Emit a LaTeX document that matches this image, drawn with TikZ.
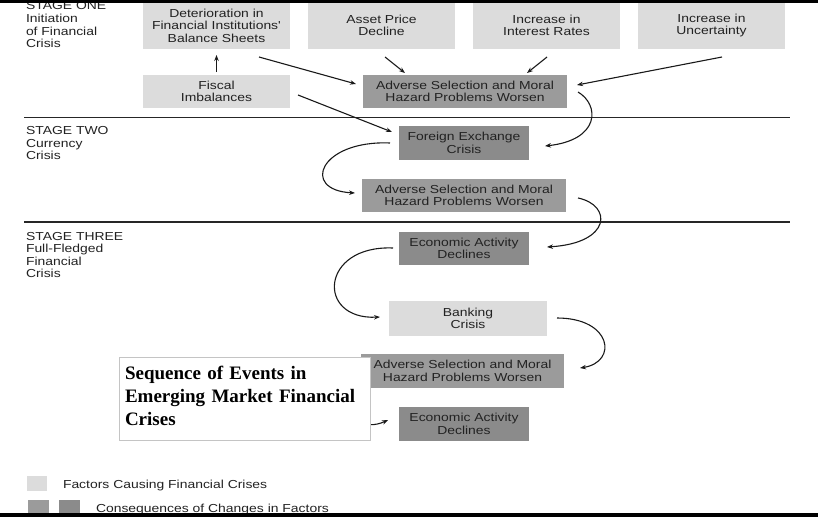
\documentclass[tikz,border=0pt]{standalone}
\usepackage{fontspec}
\setmainfont{Liberation Sans}
\newfontfamily\dsans[FakeStretch=1.2]{Liberation Sans}
\newfontfamily\ttlserif{Liberation Serif}
\usetikzlibrary{arrows.meta,calc}
\definecolor{lightbox}{HTML}{DCDCDC}
\definecolor{midbox}{HTML}{9B9B9B}
\definecolor{darkbox}{HTML}{8B8B8B}
\definecolor{txt}{HTML}{222222}
\definecolor{titleedge}{HTML}{C4C4C4}
\begin{document}
\begin{tikzpicture}[x=1pt,y=-1pt,
  every node/.style={inner sep=0pt, outer sep=0pt},
  sansfont/.style={font=\dsans\fontsize{11.6}{12.6}\selectfont, text=txt},
  boxtext/.style={sansfont, align=center},
  cause/.style={boxtext, fill=lightbox},
  conseqA/.style={boxtext, fill=midbox},
  conseqB/.style={boxtext, fill=darkbox},
  stagelabel/.style={sansfont, align=left, anchor=north west},
  link/.style={draw=black!90, line width=1.1pt, -{Stealth[length=6pt,width=4.5pt]}},
  stagerule/.style={draw=black!85, line width=1.4pt},
]
\useasboundingbox (0,0) rectangle (818,519);

% stage separators
\coordinate (r1a) at (24,117.5); \coordinate (r1b) at (790,117.5);
\coordinate (r2a) at (24,222);   \coordinate (r2b) at (790,222);
\draw[stagerule] (r1a) -- (r1b);
\draw[stagerule] (r2a) -- (r2b);

% stage labels
\node[stagelabel] (s1) at (26,1.8) {STAGE ONE\\Initiation\\of Financial\\Crisis};
\node[stagelabel] (s2) at (26,126.5) {STAGE TWO\\Currency\\Crisis};
\node[stagelabel] (s3) at (26,232) {STAGE THREE\\Full-Fledged\\Financial\\Crisis};

% stage one boxes
\node[cause, minimum width=147pt, minimum height=47pt] (det) at (216.5,25.5) {Deterioration in\\Financial Institutions'\\Balance Sheets};
\node[cause, minimum width=147pt, minimum height=47pt] (asset) at (381.5,25.5) {Asset Price\\Decline};
\node[cause, minimum width=147pt, minimum height=47pt] (rates) at (546.5,25.5) {Increase in\\Interest Rates};
\node[cause, minimum width=147pt, minimum height=47pt] (unc) at (711.5,25.5) {Increase in\\Uncertainty};
\node[cause, minimum width=147pt, minimum height=33pt] (fiscal) at (216.5,91.5) {Fiscal\\Imbalances};
\node[conseqA, minimum width=204pt, minimum height=33pt] (adv1) at (465,91.5) {Adverse Selection and Moral\\Hazard Problems Worsen};

% stage two boxes
\node[conseqB, minimum width=130pt, minimum height=34pt] (fx) at (464,143) {Foreign Exchange\\Crisis};
\node[conseqA, minimum width=204pt, minimum height=33pt] (adv2) at (464,195.5) {Adverse Selection and Moral\\Hazard Problems Worsen};

% stage three boxes
\node[conseqB, minimum width=130pt, minimum height=33pt] (econ1) at (464,248.5) {Economic Activity\\Declines};
\node[cause, minimum width=158pt, minimum height=35pt] (bank) at (468,318.5) {Banking\\Crisis};
\node[conseqA, minimum width=203pt, minimum height=34pt] (adv3) at (462.5,371) {Adverse Selection and Moral\\Hazard Problems Worsen};
\node[conseqB, minimum width=130pt, minimum height=34pt] (econ2) at (464,424) {Economic Activity\\Declines};

% straight connectors
\draw[link] ($(fiscal.north)+(0,-3)$) -- ($(det.south)+(0,6)$);
\draw[link] ($(det.south east)+(-31,8)$) -- ($(adv1.west)+(-7,-7.5)$);
\draw[link] ($(asset.south)+(3.5,8)$) -- ($(adv1.north west)+(42,-2)$);
\draw[link] ($(rates.south)+(0.5,8)$) -- ($(adv1.north east)+(-40,-2)$);
\draw[link] ($(unc.south)+(10.5,8)$) -- ($(adv1.east)+(10,-6.5)$);
\draw[link] ($(fiscal.east)+(8,3.5)$) -- ($(fx.west)+(-7,-11)$);

% curved connectors
\draw[link] ($(adv1.east)+(11,0.5)$) .. controls +(22,13) and +(55,-6) .. ($(fx.east)+(16,3)$);
\draw[link] ($(fx.west)+(-9,0)$) .. controls +(-70,-3) and +(-55,-3) .. ($(adv2.west)+(-7,-2.5)$);
\draw[link] ($(adv2.east)+(12,2.5)$) .. controls +(34,7) and +(65,-4) .. ($(econ1.east)+(18,-1.5)$);
\draw[link] ($(econ1.west)+(-6,-0.5)$) .. controls +(-73,-3) and +(-64,3) .. ($(bank.west)+(-9,-1.5)$);
\draw[link] ($(bank.east)+(10,-0.5)$) .. controls +(55,0) and +(38,-6) .. ($(adv3.east)+(16,-3)$);
\draw[link] ($(adv3.west)+(-8,0)$) .. controls +(-40,0) and +(-43,20) .. ($(econ2.west)+(-11,-4)$);

% title box (covers the hidden part of the last connector)
\node[draw=titleedge, line width=0.8pt, fill=white, minimum width=251pt, minimum height=83pt,
      text width=239pt, align=left, font=\ttlserif\bfseries\fontsize{19}{23}\selectfont, text=black]
      (title) at (244.5,398.5) {Sequence of Events in\\Emerging Market Financial\\Crises\par\vspace*{6pt}};

% legend
\node[fill=lightbox, minimum width=20pt, minimum height=15pt] (lgA) at (37,483.5) {};
\node[fill=midbox, minimum width=21pt, minimum height=15pt] (lgB) at (38,507.5) {};
\node[fill=darkbox, minimum width=21pt, minimum height=15pt] (lgC) at (69.5,507.5) {};
\node[sansfont, anchor=base west] (lgAt) at (63,488) {Factors Causing Financial Crises};
\node[sansfont, anchor=base west] (lgBt) at (96,512) {Consequences of Changes in Factors};

% frame bands
\fill[black] (0,0) rectangle (818,3.2);
\fill[black] (0,513) rectangle (818,517);
\end{tikzpicture}
\end{document}
